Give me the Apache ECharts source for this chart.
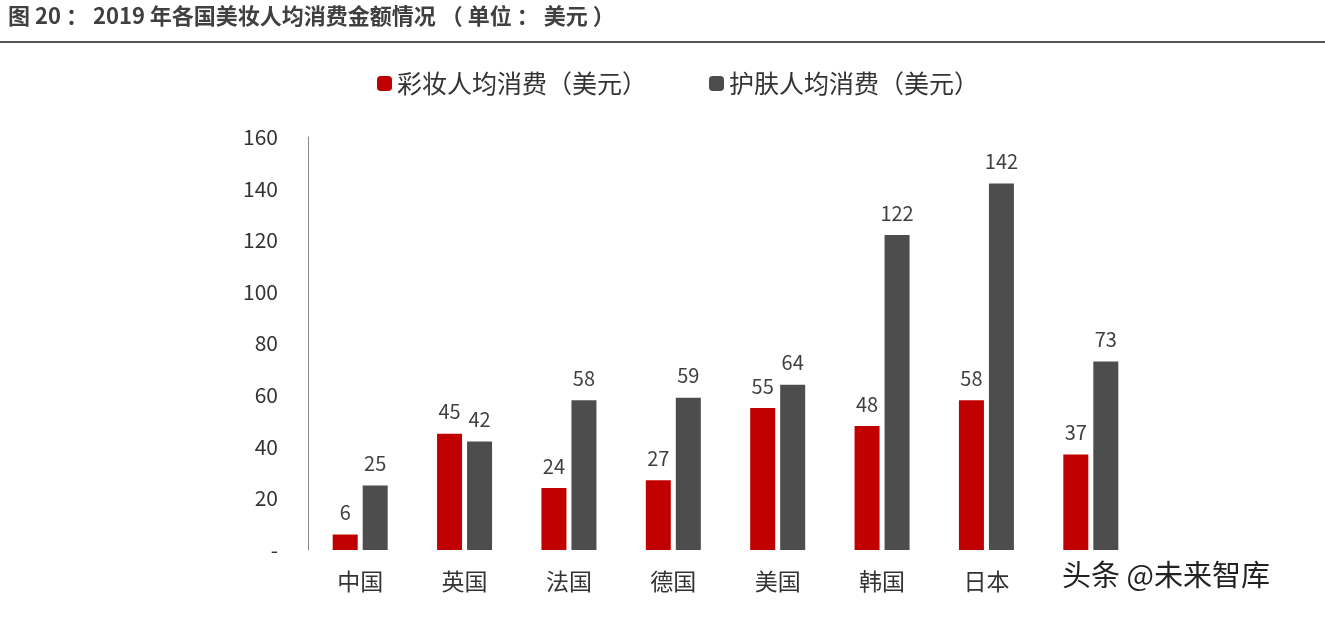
<!DOCTYPE html>
<html>
<head>
<meta charset="utf-8">
<script src="https://cdn.jsdelivr.net/npm/echarts@6/dist/echarts.min.js"></script>
<style>html,body{margin:0;padding:0;background:#fff}#main{width:1325px;height:617px}</style>
</head>
<body>
<div id="main"></div>
<script>
var categories = ['中国', '英国', '法国', '德国', '美国', '韩国', '日本', ''];
var makeup = [6, 45, 24, 27, 55, 48, 58, 37];
var skincare = [25, 42, 58, 59, 64, 122, 142, 73];
var yTicks = [0, 20, 40, 60, 80, 100, 120, 140, 160];

var chart = echarts.init(document.getElementById('main'));
var font = '"Noto Sans CJK SC", "Noto Sans", sans-serif';
var option = {
    animation: false,
    textStyle: {fontFamily: font},
    graphic: [
        {type: 'text', left: 8, top: 5, style: {text: '图 20 ： 2019 年各国美妆人均消费金额情况 （ 单位 ： 美元 ）', font: 'bold 22px ' + font, fill: '#404040'}},
        {type: 'rect', shape: {x: 0, y: 41, width: 1325, height: 2}, style: {fill: '#555'}},
        {type: 'text', left: 1062, top: 560, style: {text: '头条 @未来智库', font: '29px ' + font, fill: '#222'}}
    ],
    legend: {
        top: 66, left: 372, itemWidth: 15, itemHeight: 15, itemGap: 62,
        textStyle: {fontSize: 25, color: '#333'},
        data: ['彩妆人均消费（美元）', '护肤人均消费（美元）']
    },
    grid: {left: 308, right: 182, top: 137, bottom: 67},
    xAxis: {
        type: 'category', data: categories,
        axisLine: {show: false}, axisTick: {show: false},
        axisLabel: {fontSize: 23, color: '#333', margin: 20}
    },
    yAxis: {
        type: 'value', min: 0, max: 160, interval: 20,
        splitLine: {show: false},
        axisLine: {show: true, lineStyle: {color: '#888'}},
        axisTick: {show: false},
        axisLabel: {fontSize: 21, color: '#333', margin: 30,
            formatter: function (v) { return yTicks.indexOf(v) === 0 ? '-' : v; }}
    },
    series: [
        {name: '彩妆人均消费（美元）', type: 'bar', data: makeup, barWidth: 25, barGap: '20%',
            itemStyle: {color: '#c00000'},
            label: {show: true, position: 'top', fontSize: 20, color: '#404040', distance: 12}},
        {name: '护肤人均消费（美元）', type: 'bar', data: skincare, barWidth: 25,
            itemStyle: {color: '#4d4d4d'},
            label: {show: true, position: 'top', fontSize: 20, color: '#404040', distance: 12}}
    ]
};
chart.setOption(option, true);
</script>
</body>
</html>
